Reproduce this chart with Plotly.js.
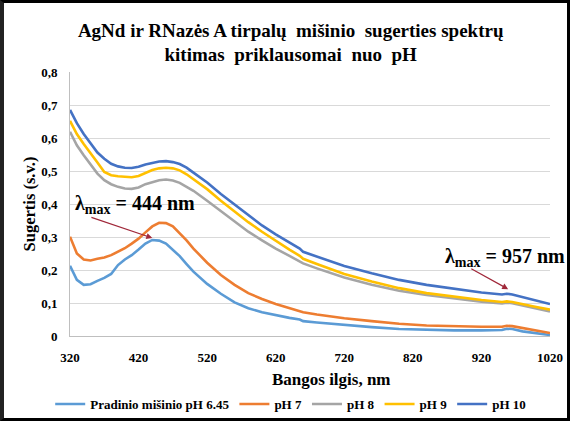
<!DOCTYPE html>
<html>
<head>
<meta charset="utf-8">
<script src="https://cdn.plot.ly/plotly-3.0.1.min.js"></script>
<style>
html,body{margin:0;padding:0;background:#fff;}
#wrap{position:relative;width:570px;height:421px;}
#chart{width:570px;height:421px;}
#frame{position:absolute;left:0;top:0;width:570px;height:421px;box-sizing:border-box;border:3px solid #000;border-left:4px solid #222;pointer-events:none;}
</style>
</head>
<body>
<div id="wrap"><div id="chart"></div><div id="frame"></div></div>
<script>
const wavelengths = [320,330,340,350,360,370,380,390,400,410,420,430,440,450,460,470,480,490,500,520,540,560,580,600,620,640,655,660,680,700,720,760,800,840,880,920,950,957,965,980,1000,1020];

const seriesNames = ['Pradinio mišinio pH 6.45','pH 7','pH 8','pH 9','pH 10'];

const pradinio = [0.213,0.170,0.155,0.157,0.167,0.176,0.188,0.215,0.232,0.245,0.262,0.280,0.291,0.289,0.280,0.262,0.242,0.218,0.195,0.158,0.128,0.102,0.084,0.072,0.063,0.055,0.050,0.045,0.041,0.037,0.033,0.027,0.021,0.018,0.017,0.017,0.018,0.022,0.021,0.014,0.008,0.003];
const ph7 = [0.301,0.250,0.232,0.229,0.234,0.238,0.245,0.255,0.266,0.280,0.295,0.314,0.332,0.343,0.342,0.332,0.312,0.290,0.265,0.222,0.185,0.155,0.130,0.112,0.097,0.085,0.077,0.072,0.065,0.059,0.054,0.045,0.037,0.032,0.029,0.028,0.028,0.031,0.030,0.024,0.016,0.009];
const ph8 = [0.619,0.578,0.548,0.520,0.492,0.472,0.460,0.452,0.447,0.446,0.450,0.460,0.467,0.472,0.474,0.471,0.464,0.453,0.440,0.410,0.378,0.346,0.316,0.290,0.265,0.243,0.226,0.220,0.205,0.190,0.177,0.155,0.137,0.124,0.114,0.104,0.099,0.101,0.099,0.092,0.083,0.074];
const ph9 = [0.652,0.612,0.582,0.555,0.526,0.497,0.487,0.484,0.482,0.481,0.485,0.495,0.503,0.508,0.510,0.508,0.502,0.490,0.475,0.445,0.410,0.378,0.345,0.316,0.288,0.262,0.243,0.234,0.218,0.202,0.188,0.165,0.145,0.130,0.119,0.109,0.103,0.105,0.103,0.096,0.088,0.080];
const ph10 = [0.685,0.645,0.612,0.585,0.556,0.537,0.522,0.514,0.510,0.509,0.513,0.520,0.525,0.529,0.530,0.527,0.521,0.510,0.495,0.465,0.430,0.398,0.365,0.335,0.308,0.283,0.265,0.255,0.240,0.226,0.212,0.190,0.170,0.155,0.143,0.132,0.126,0.128,0.126,0.118,0.108,0.097];

const xTicks = [320,420,520,620,720,820,920,1020];
const yTicks = [0,0.1,0.2,0.3,0.4,0.5,0.6,0.7,0.8];
const yTickText = ['0','0,1','0,2','0,3','0,4','0,5','0,6','0,7','0,8'];

const colors = ['#5B9BD5','#ED7D31','#A5A5A5','#FFC000','#4472C4'];
const allY = [pradinio, ph7, ph8, ph9, ph10];

const serif = "Liberation Serif";
const b = s => '<b>' + s + '</b>';
const pad = '&nbsp;'.repeat(10);

const traces = allY.map((ys,i)=>({
  x: wavelengths, y: ys, name: b(seriesNames[i]), type:'scatter', mode:'lines',
  line:{color:colors[i], width:2.6}
}));

const arrowColor = '#A0283A';

const layout = {
  width:570, height:421,
  margin:{l:70, r:20, t:72, b:85},
  paper_bgcolor:'#fff', plot_bgcolor:'#fff',
  showlegend:true,
  font:{family:serif, color:'#000'},
  title:{
    text:b('AgNd ir RNazės A tirpalų  mišinio  sugerties spektrų<br>kitimas  priklausomai  nuo  pH'),
    font:{family:serif, size:19, color:'#000'},
    x:0.51, xref:'container', xanchor:'center',
    y:1-36.5/421, yref:'container', yanchor:'middle'
  },
  xaxis:{
    range:[320,1020], tickvals:xTicks, ticktext:xTicks.map(v=>b(String(v))),
    showgrid:false, zeroline:false,
    showline:true, linecolor:'#BFBFBF', linewidth:1,
    ticks:'outside', ticklen:9, tickcolor:'rgba(0,0,0,0)',
    tickfont:{family:serif, size:13, color:'#000'},
    title:{text:pad + b('Bangos ilgis, nm'), font:{family:serif, size:17, color:'#000'}, standoff:9}
  },
  yaxis:{
    range:[0,0.8], tickvals:yTicks, ticktext:yTickText.map(b),
    showgrid:true, gridcolor:'#D9D9D9', gridwidth:1, zeroline:false,
    showline:true, linecolor:'#BFBFBF', linewidth:1,
    ticks:'outside', ticklen:9, tickcolor:'rgba(0,0,0,0)',
    tickfont:{family:serif, size:13, color:'#000'},
    title:{text:b('Sugertis (s.v.)'), font:{family:serif, size:16.5, color:'#000'}, standoff:1}
  },
  legend:{
    orientation:'h', xref:'container', yref:'container',
    x:0.51, xanchor:'center', y:1-404/421, yanchor:'middle',
    font:{family:serif, size:13, color:'#000'},
    itemwidth:30, tracegroupgap:0
  },
  annotations:[
    {x:73, y:204, xref:'paper', yref:'paper', text:b('λ<sub>max</sub> = 444 nm'), showarrow:false,
     font:{family:serif, size:20, color:'#000'}},
    {x:440, y:0.297, ax:349, ay:0.361, xref:'x', yref:'y', axref:'x', ayref:'y', text:'',
     showarrow:true, arrowhead:2, arrowsize:1, arrowwidth:1.2, arrowcolor:arrowColor, standoff:0, startstandoff:0},
    {x:443, y:257, xref:'paper', yref:'paper', text:b('λ<sub>max</sub> = 957 nm'), showarrow:false,
     font:{family:serif, size:20, color:'#000'}},
    {x:959, y:0.142, ax:903, ay:0.206, xref:'x', yref:'y', axref:'x', ayref:'y', text:'',
     showarrow:true, arrowhead:2, arrowsize:1, arrowwidth:1.2, arrowcolor:arrowColor, standoff:0, startstandoff:0}
  ]
};

// convert pixel-based label anchors to paper coordinates (left-anchored text)
const pl = layout.margin.l, pw = 570 - layout.margin.l - layout.margin.r;
const pt = layout.margin.t, ph = 421 - layout.margin.t - layout.margin.b;
[0,2].forEach(i=>{
  const a = layout.annotations[i];
  a.x = (a.x - pl) / pw; a.y = 1 - (a.y - pt) / ph;
  a.xanchor = 'left'; a.yanchor = 'middle';
});

Plotly.newPlot('chart', traces, layout, {displayModeBar:false, staticPlot:true});
</script>
</body>
</html>
